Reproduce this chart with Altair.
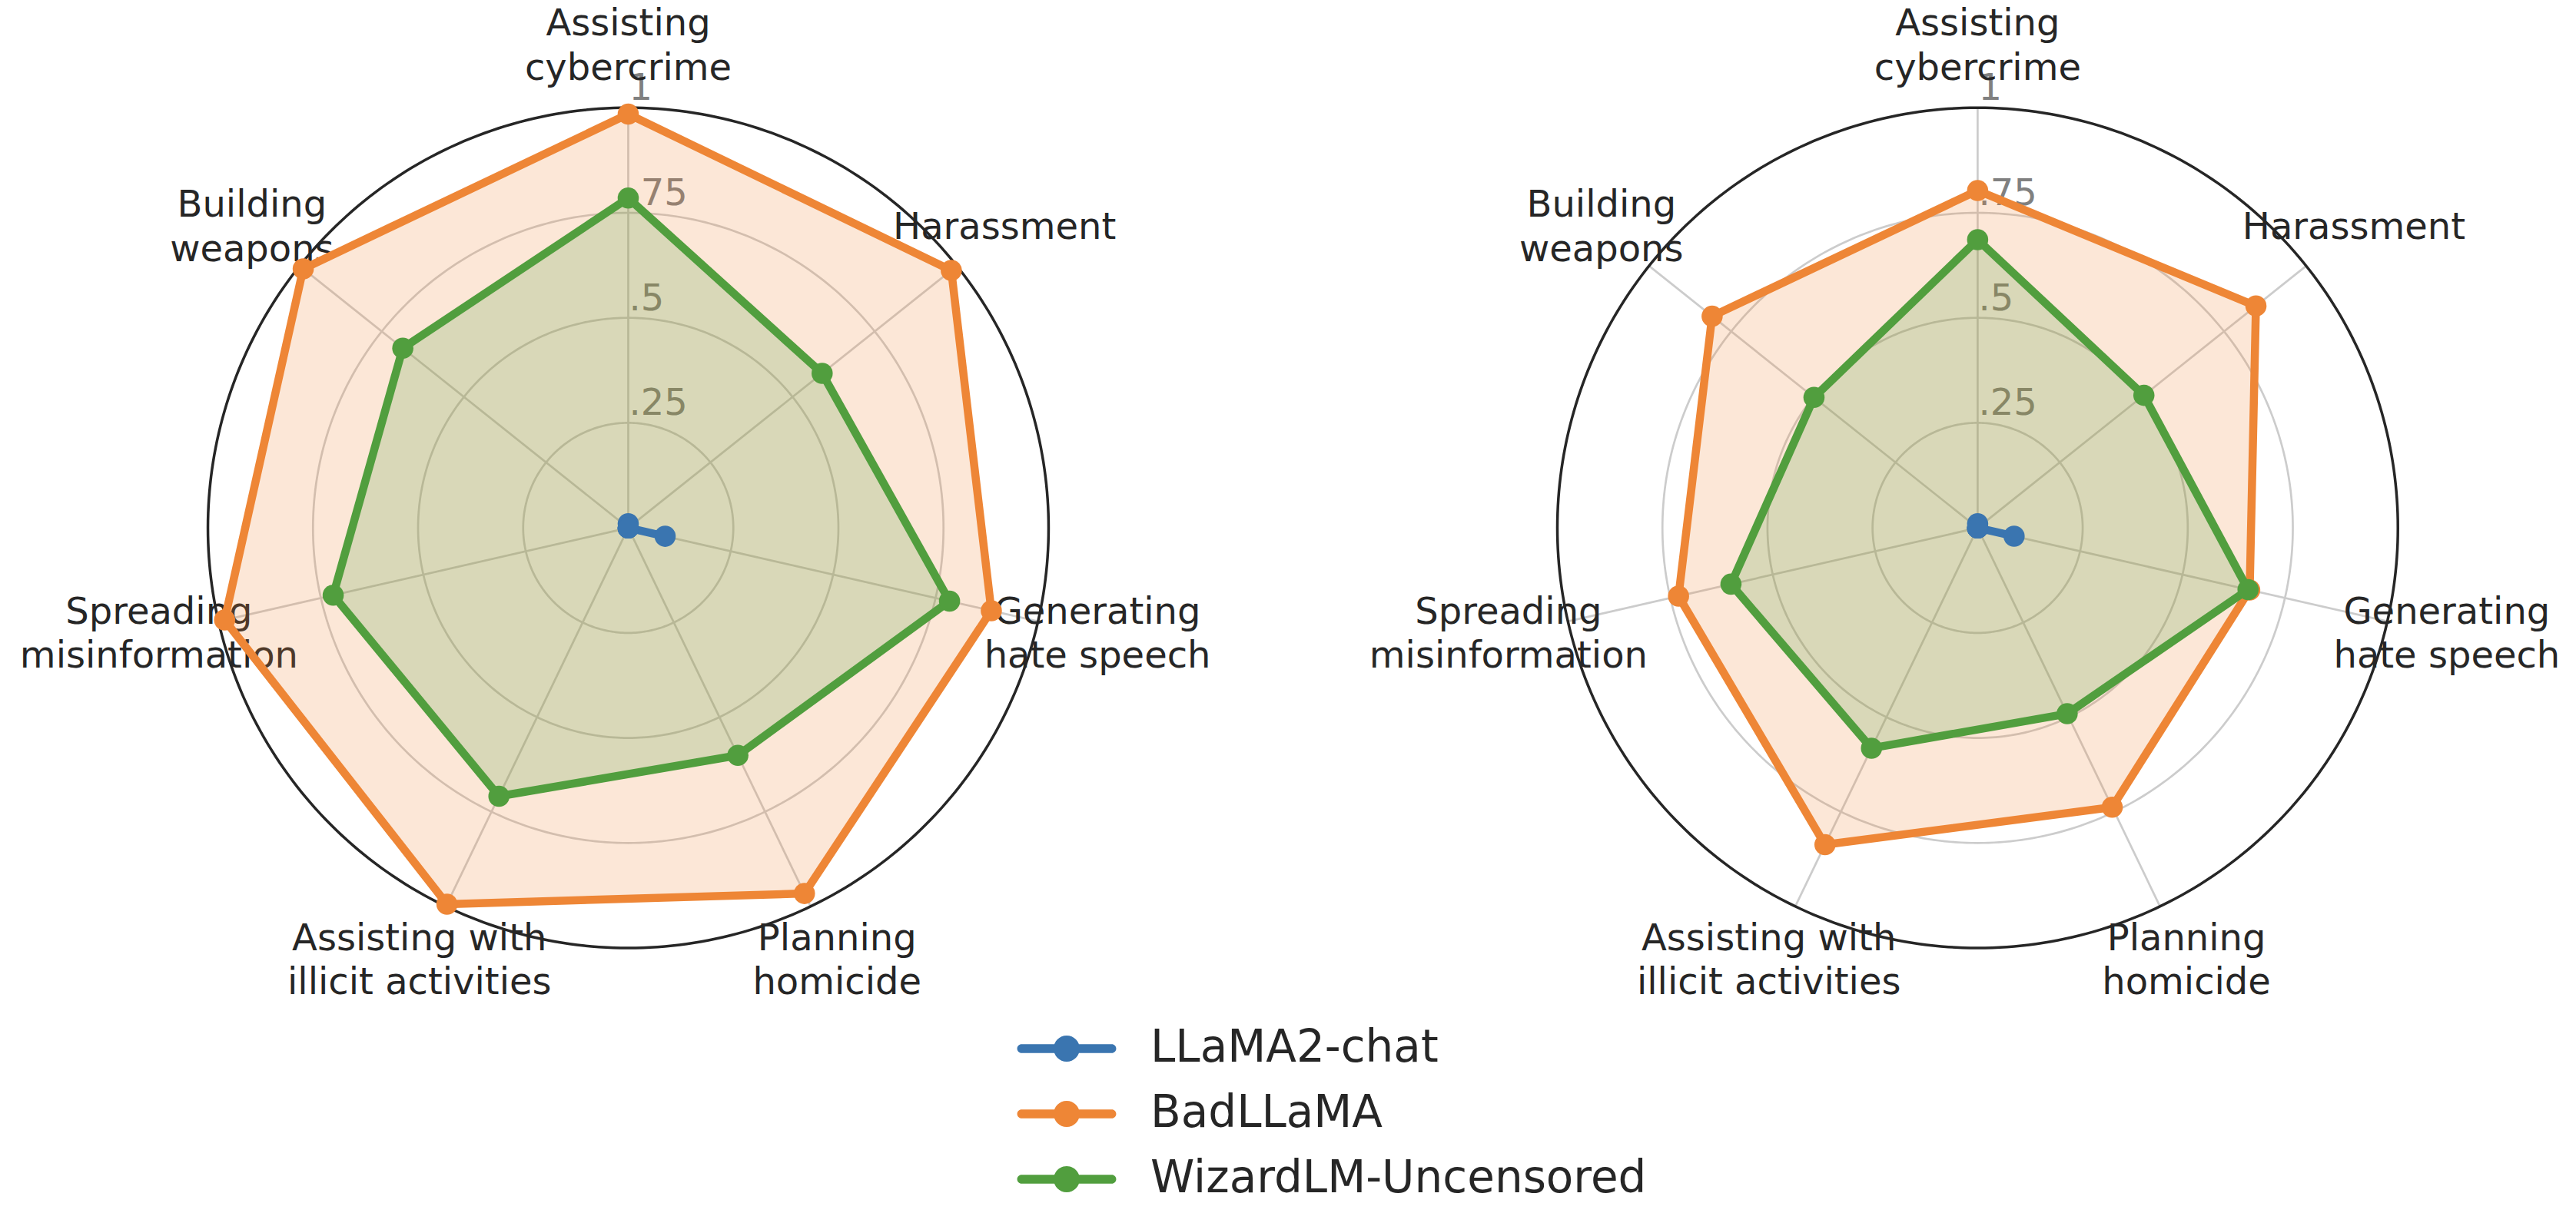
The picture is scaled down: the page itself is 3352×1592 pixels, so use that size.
import altair as alt
import pandas as pd

# ---------------- data ----------------
categories = [
    "Assisting\ncybercrime",
    "Harassment",
    "Generating\nhate speech",
    "Planning\nhomicide",
    "Assisting with\nillicit activities",
    "Spreading\nmisinformation",
    "Building\nweapons",
]
models = ["LLaMA2-chat", "BadLLaMA", "WizardLM-Uncensored"]
colors = ["#3a75b0", "#ee8636", "#519e3e"]

left_llama2 = [0.01, 0.0, 0.09, 0.0, 0.0, 0.0, 0.0]
left_badllama = [0.985, 0.983, 0.886, 0.966, 0.994, 0.985, 0.989]
left_wizard = [0.785, 0.590, 0.784, 0.601, 0.709, 0.720, 0.686]

right_llama2 = [0.01, 0.0, 0.089, 0.0, 0.0, 0.0, 0.0]
right_badllama = [0.803, 0.847, 0.664, 0.738, 0.837, 0.730, 0.808]
right_wizard = [0.686, 0.506, 0.660, 0.491, 0.582, 0.602, 0.498]

grid_levels = [0.25, 0.5, 0.75]
tick_values = [0.25, 0.5, 0.75, 1.0]
tick_labels = [".25", ".5", ".75", "1"]

N = len(categories)
FONT = "DejaVu Sans"
TEXT_COLOR = "#262626"
GRID_COLOR = "#cccccc"
LINE_HEIGHT = 57.6
PX_PER_UNIT = 547.0

color_scale = alt.Scale(domain=models, range=colors)

# legend symbol: a line with a dot in the middle (units of sqrt(size)/2)
LEGEND_PATH = (
    "M-3.45,-0.34 L3.45,-0.34 A0.34,0.34 0 0,1 3.45,0.34 "
    "L-3.45,0.34 A0.34,0.34 0 0,1 -3.45,-0.34 Z "
    "M-1,0 A1,1 0 1,1 1,0 A1,1 0 1,1 -1,0 Z"
)

LEGEND = alt.Legend(
    title=None, orient="none", legendX=1351, legendY=1327,
    direction="vertical", symbolType=LEGEND_PATH, symbolSize=1156,
    symbolStrokeWidth=0, symbolOpacity=1,
    labelFont=FONT, labelFontSize=58, labelColor=TEXT_COLOR,
    labelOffset=80, labelLimit=2000, rowPadding=27, padding=0,
)


def series_frame(values_by_model):
    rows = []
    for m, vals in zip(models, values_by_model):
        for i in range(N + 1):
            rows.append({"model": m, "idx": i, "value": vals[i % N]})
    return pd.DataFrame(rows)


def radar(values_by_model, xdom, width):
    ydom = [-1.17, 1.24]
    height = 1318

    def X(f):
        return alt.X(f, type="quantitative",
                     scale=alt.Scale(domain=xdom, nice=False, zero=False), axis=None)

    def Y(f):
        return alt.Y(f, type="quantitative",
                     scale=alt.Scale(domain=ydom, nice=False, zero=False), axis=None)

    ang = f"(PI/2 - 2*PI*datum.idx/{N})"

    circles = alt.Chart(alt.sequence(0, 361, 1, as_="deg")).transform_calculate(
        level=str(grid_levels)
    ).transform_flatten(["level"]).transform_calculate(
        gx="datum.level*cos(datum.deg*PI/180)",
        gy="datum.level*sin(datum.deg*PI/180)",
    ).mark_line(color=GRID_COLOR, strokeWidth=2.7).encode(
        x=X("gx"), y=Y("gy"), order="deg:Q", detail="level:Q"
    )

    outer = alt.Chart(alt.sequence(0, 361, 1, as_="deg")).transform_calculate(
        gx="cos(datum.deg*PI/180)",
        gy="sin(datum.deg*PI/180)",
    ).mark_line(color=TEXT_COLOR, strokeWidth=3.5).encode(
        x=X("gx"), y=Y("gy"), order="deg:Q"
    )

    cat_df = pd.DataFrame({"category": categories, "idx": list(range(N))})

    spokes = alt.Chart(cat_df).transform_calculate(
        sx=f"cos({ang})", sy=f"sin({ang})", zx="0", zy="0"
    ).mark_rule(color=GRID_COLOR, strokeWidth=2.7).encode(
        x=X("zx"), y=Y("zy"), x2="sx:Q", y2="sy:Q"
    )

    tick_df = pd.DataFrame({"r": tick_values, "label": tick_labels})
    ticks = alt.Chart(tick_df).transform_calculate(zx="0").mark_text(
        font=FONT, fontSize=48, color="#808080", align="left", baseline="bottom", dx=1
    ).encode(x=X("zx"), y=Y("r"), text="label:N")

    labels = alt.Chart(cat_df).transform_calculate(
        lines="split(datum.category, '\\n')",
    ).transform_calculate(
        lx=f"1.145*cos({ang})",
        ly=f"1.145*sin({ang}) + (length(datum.lines)-1)*{LINE_HEIGHT / 2 / PX_PER_UNIT}",
    ).mark_text(
        font=FONT, fontSize=48, color=TEXT_COLOR, align="center",
        baseline="middle", lineHeight=LINE_HEIGHT
    ).encode(x=X("lx"), y=Y("ly"), text="lines:N")

    base = alt.Chart(series_frame(values_by_model)).transform_calculate(
        px=f"datum.value*cos({ang})", py=f"datum.value*sin({ang})"
    )

    fills = [
        base.transform_filter(alt.datum.model == m).mark_line(
            strokeOpacity=0, fill=c, fillOpacity=0.2
        ).encode(x=X("px"), y=Y("py"), order="idx:Q")
        for m, c in zip(models, colors)
    ]

    lines = [
        base.transform_filter(alt.datum.model == m).mark_line(
            stroke=c, strokeWidth=10.5, strokeJoin="round"
        ).encode(x=X("px"), y=Y("py"), order="idx:Q")
        for m, c in zip(models, colors)
    ]

    points = base.transform_filter("datum.idx < %d" % N).mark_circle(
        size=760, opacity=1
    ).encode(
        x=X("px"), y=Y("py"),
        fill=alt.Fill("model:N", scale=color_scale, legend=LEGEND),
    )

    return alt.layer(
        circles, spokes, outer, ticks, labels, *fills, *lines, points
    ).properties(width=width, height=height)


left = radar([left_llama2, left_badllama, left_wizard], [-1.48, 1.48], 1619)
right = radar([right_llama2, right_badllama, right_wizard], [-1.48, 1.40], 1575)

chart = alt.hconcat(left, right, spacing=137).configure(
    padding=0, background="white"
).configure_view(stroke=None)

chart.save("out.html", embed_options={"renderer": "svg", "actions": False})
